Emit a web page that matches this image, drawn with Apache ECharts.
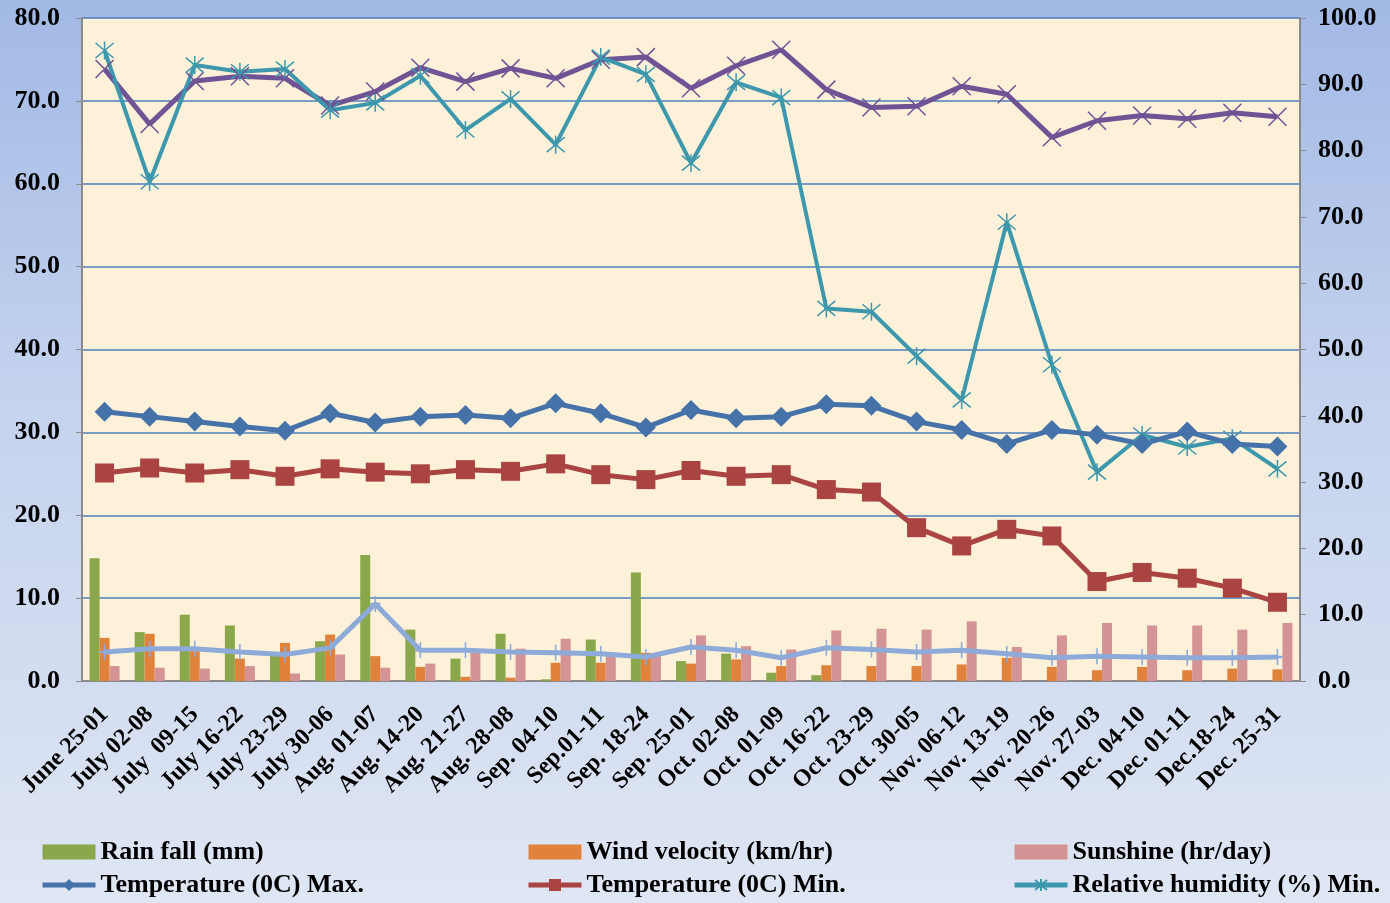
<!DOCTYPE html>
<html>
<head>
<meta charset="utf-8">
<script src="https://cdn.jsdelivr.net/npm/echarts@6/dist/echarts.min.js"></script>
<style>
    html, body { margin: 0; padding: 0; }
    body { background: linear-gradient(to bottom, #a2b9e5 0%, #c5d3ee 45%, #dfe6f4 100%); }
    #main { width: 1390px; height: 903px; }
</style>
</head>
<body>
<div id="main"></div>
<script>
// 周期（类目）
var weeks = ["June 25-01", "July 02-08", "July  09-15", "July 16-22", "July 23-29", "July 30-06",
    "Aug. 01-07", "Aug. 14-20", "Aug. 21-27", "Aug. 28-08", "Sep. 04-10", "Sep.01-11",
    "Sep. 18-24", "Sep. 25-01", "Oct. 02-08", "Oct. 01-09", "Oct. 16-22", "Oct. 23-29",
    "Oct. 30-05", "Nov. 06-12", "Nov. 13-19", "Nov. 20-26", "Nov. 27-03", "Dec. 04-10",
    "Dec. 01-11", "Dec.18-24", "Dec. 25-31"];

// 柱状数据（左轴）
var rainFall = [14.8, 5.9, 8.0, 6.7, 3.1, 4.8, 15.2, 6.2, 2.7, 5.7, 0.2, 5.0, 13.1, 2.4,
    3.3, 1.0, 0.7, 0, 0, 0, 0, 0, 0, 0, 0, 0, 0];
var windVelocity = [5.2, 5.7, 3.6, 2.7, 4.6, 5.6, 3.0, 1.7, 0.5, 0.4, 2.2, 2.2, 3.4, 2.1,
    2.6, 1.8, 1.9, 1.8, 1.8, 2.0, 2.8, 1.7, 1.3, 1.7, 1.3, 1.5, 1.4];
var sunshine = [1.8, 1.6, 1.5, 1.8, 0.9, 3.2, 1.6, 2.1, 3.8, 3.9, 5.1, 3.4, 3.3, 5.5,
    4.2, 3.8, 6.1, 6.3, 6.2, 7.2, 4.1, 5.5, 7.0, 6.7, 6.7, 6.2, 7.0];

// 折线数据（左轴）
var evaporation = [3.5, 3.9, 3.9, 3.5, 3.2, 4.0, 9.3, 3.7, 3.7, 3.5, 3.4, 3.3, 2.9, 4.1,
    3.7, 2.8, 4.0, 3.8, 3.5, 3.7, 3.3, 2.8, 3.0, 2.9, 2.8, 2.8, 2.9];
var tempMax = [32.5, 31.9, 31.3, 30.7, 30.2, 32.3, 31.2, 31.9, 32.1, 31.7, 33.5, 32.3, 30.6, 32.7,
    31.7, 31.9, 33.4, 33.2, 31.3, 30.3, 28.6, 30.3, 29.7, 28.6, 30.1, 28.6, 28.3];
var tempMin = [25.1, 25.7, 25.1, 25.5, 24.7, 25.6, 25.2, 25.0, 25.5, 25.3, 26.2, 24.9, 24.3, 25.4,
    24.7, 24.9, 23.1, 22.8, 18.5, 16.3, 18.3, 17.5, 12.0, 13.1, 12.4, 11.2, 9.5];

// 相对湿度（右轴）
var rhMax = [92.3, 84.0, 90.5, 91.2, 90.9, 86.8, 88.9, 92.5, 90.4, 92.4, 90.9, 93.7, 94.1, 89.4,
    92.8, 95.2, 89.2, 86.5, 86.7, 89.7, 88.5, 82.0, 84.5, 85.3, 84.8, 85.7, 85.1];
var rhMin = [95.1, 75.3, 92.9, 91.9, 92.3, 86.1, 87.2, 91.3, 83.1, 87.8, 80.9, 94.1, 91.5, 78.1,
    90.3, 88.0, 56.2, 55.7, 49.0, 42.4, 69.2, 47.7, 31.5, 37.1, 35.3, 36.6, 32.0];

(function () {
    var myChart = echarts.init(document.getElementById("main"));
    var serif = "'Liberation Serif', 'Times New Roman', serif";
    var star = "path://M0,0L10,10M10,0L0,10M5,-1L5,11";
    var cross = "path://M0,0L10,10M10,0L0,10";
    var plus = "path://M5,0L5,12M0,6L10,6";

    var legendText = { color: "#000", fontFamily: serif, fontWeight: "bold", fontSize: 26 };
    // 图例分三列，每列两行
    function legendCol(left, names) {
        return {
            orient: "vertical",
            left: left,
            top: 839,
            padding: 0,
            itemGap: 7,
            itemWidth: 53,
            itemHeight: 15,
            textStyle: legendText,
            lineStyle: { width: 5 },
            data: names
        };
    }

    var option = {
        backgroundColor: "transparent",
        animation: false,
        legend: [
            legendCol(40, [{ name: "Rain fall (mm)", icon: "rect" }, "Temperature (0C) Max."]),
            legendCol(526, [{ name: "Wind velocity (km/hr)", icon: "rect" }, "Temperature (0C) Min."]),
            legendCol(1012, [{ name: "Sunshine (hr/day)", icon: "rect" }, "Relative humidity (%) Min."])
        ],
        grid: {
            left: 82,
            right: 90,
            top: 18,
            bottom: 222,
            show: true,
            backgroundColor: "#fdf1d9",
            borderWidth: 0
        },
        xAxis: {
            type: "category",
            data: weeks,
            axisLine: { lineStyle: { color: "#8a8a8a", width: 2 } },
            axisTick: { lineStyle: { color: "#8a8a8a" }, length: 6 },
            axisLabel: {
                rotate: 45,
                interval: 0,
                color: "#000",
                fontFamily: serif,
                fontWeight: "bold",
                fontSize: 24,
                margin: 30
            }
        },
        yAxis: [
            {
                type: "value",
                min: 0,
                max: 80,
                interval: 10,
                axisLine: { show: true, lineStyle: { color: "#8a8a8a", width: 2 } },
                axisTick: { show: true, length: 6, lineStyle: { color: "#8a8a8a" } },
                splitLine: { lineStyle: { color: "#4a7ebb", width: 1.5 } },
                axisLabel: {
                    color: "#000",
                    fontFamily: serif,
                    fontWeight: "bold",
                    fontSize: 26,
                    margin: 22,
                    formatter: function (v) { return v.toFixed(1); }
                }
            },
            {
                type: "value",
                min: 0,
                max: 100,
                interval: 10,
                position: "right",
                axisLine: { show: true, lineStyle: { color: "#8a8a8a", width: 2 } },
                axisTick: { show: true, length: 6, lineStyle: { color: "#8a8a8a" } },
                splitLine: { show: false },
                axisLabel: {
                    color: "#000",
                    fontFamily: serif,
                    fontWeight: "bold",
                    fontSize: 26,
                    margin: 18,
                    formatter: function (v) { return v.toFixed(1); }
                }
            }
        ],
        series: [
            {
                name: "Rain fall (mm)",
                type: "bar",
                data: rainFall,
                barWidth: 10,
                barGap: "0%",
                itemStyle: { color: "#8aa84b" }
            },
            {
                name: "Wind velocity (km/hr)",
                type: "bar",
                data: windVelocity,
                barWidth: 10,
                barGap: "0%",
                itemStyle: { color: "#e0823b" }
            },
            {
                name: "Sunshine (hr/day)",
                type: "bar",
                data: sunshine,
                barWidth: 10,
                barGap: "0%",
                itemStyle: { color: "#d49394" }
            },
            {
                name: "Evaporation",
                type: "line",
                data: evaporation,
                symbol: plus,
                symbolSize: [10, 16],
                lineStyle: { color: "#8eaad9", width: 5 },
                itemStyle: { color: "#8eaad9", borderColor: "#8eaad9", borderWidth: 2 }
            },
            {
                name: "Relative humidity (%) Max.",
                type: "line",
                yAxisIndex: 1,
                data: rhMax,
                symbol: cross,
                symbolSize: 18,
                lineStyle: { color: "#6e5395", width: 5 },
                itemStyle: { color: "#6e5395", borderColor: "#6e5395", borderWidth: 1.5 }
            },
            {
                name: "Relative humidity (%) Min.",
                type: "line",
                yAxisIndex: 1,
                data: rhMin,
                symbol: star,
                symbolSize: 18,
                lineStyle: { color: "#3d98ad", width: 4 },
                itemStyle: { color: "#3d98ad", borderColor: "#3d98ad", borderWidth: 1.5 }
            },
            {
                name: "Temperature (0C) Max.",
                type: "line",
                data: tempMax,
                symbol: "diamond",
                symbolSize: 20,
                lineStyle: { color: "#4672aa", width: 5 },
                itemStyle: { color: "#4672aa" }
            },
            {
                name: "Temperature (0C) Min.",
                type: "line",
                data: tempMin,
                symbol: "rect",
                symbolSize: 19,
                lineStyle: { color: "#a94442", width: 5 },
                itemStyle: { color: "#a94442" }
            }
        ]
    };

    myChart.setOption(option);
    window.addEventListener("resize", function () {
        myChart.resize();
    });
})();
</script>
</body>
</html>
